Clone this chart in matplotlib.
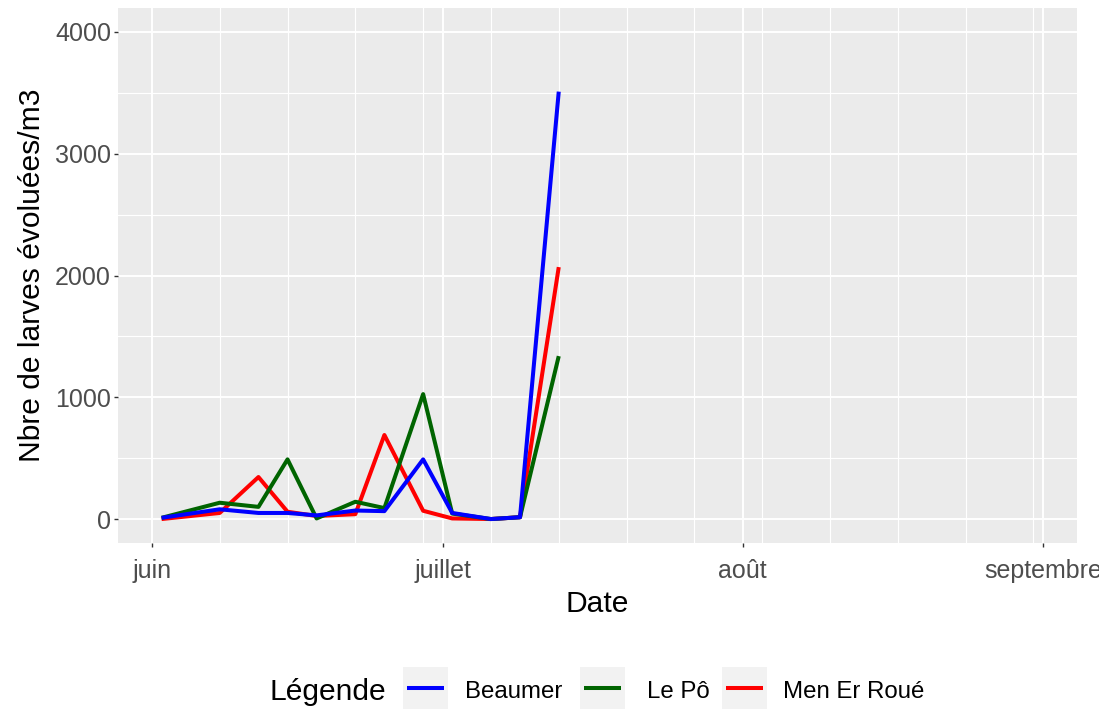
import numpy as np
import matplotlib
matplotlib.use("Agg")
import matplotlib.pyplot as plt
import matplotlib.dates as mdates
from matplotlib.patches import Rectangle
from matplotlib.lines import Line2D

plt.rcParams['font.family'] = ['Liberation Sans', 'DejaVu Sans']

# Data
dates = np.array(['2021-06-02', '2021-06-08', '2021-06-12', '2021-06-15',
                  '2021-06-18', '2021-06-22', '2021-06-25', '2021-06-29',
                  '2021-07-02', '2021-07-06', '2021-07-09', '2021-07-13'],
                 dtype='datetime64[D]')
beaumer = [10, 80, 50, 50, 30, 70, 65, 490, 50, 0, 15, 3510]
le_po = [10, 134, 100, 490, 5, 142, 90, 1026, 45, 0, 15, 1338]
men_er_roue = [0, 50, 345, 60, 25, 40, 690, 68, 5, 0, 15, 2069]

series_names = ['Beaumer', 'Le Pô', 'Men Er Roué']
series_colors = ['#0000FF', '#006400', '#FF0000']
month_labels = ['juin', 'juillet', 'août', 'septembre']
month_starts = np.array(['2021-06-01', '2021-07-01', '2021-08-01', '2021-09-01'],
                        dtype='datetime64[D]')
date_range = np.array(['2021-06-02', '2021-08-31'], dtype='datetime64[D]')
y_limits = [0, 4000]


def to_num(d):
    return mdates.date2num(d.astype('datetime64[s]').astype(object))


W, H = 1099, 709
fig = plt.figure(figsize=(W / 100, H / 100), dpi=100)
top_px, bot_px = 7.6, 543.4
ax = fig.add_axes([118 / W, 1 - bot_px / H, (1077 - 118) / W, (bot_px - top_px) / H])
ax.set_facecolor('#EBEBEB')
for s in ax.spines.values():
    s.set_visible(False)

# ggplot-like expansion of 5%
xnum = to_num(date_range)
xpad = 0.05 * (xnum[1] - xnum[0])
ax.set_xlim(xnum[0] - xpad, xnum[1] + xpad)
ypad = 0.05 * (y_limits[1] - y_limits[0])
ax.set_ylim(y_limits[0] - ypad, y_limits[1] + ypad)

# grid: monthly majors, weekly minors on x; 1000 / 500 on y
ax.set_xticks(to_num(month_starts))
ax.set_xticklabels(month_labels)
weeks = np.arange(np.datetime64('2021-06-01'), np.datetime64('2021-09-05'), 7)
ax.set_xticks(to_num(weeks), minor=True)
ax.set_yticks([0, 1000, 2000, 3000, 4000])
ax.set_yticks(np.arange(500, 4000, 1000), minor=True)
ax.grid(which='major', color='white', linewidth=1.4)
ax.grid(which='minor', color='white', linewidth=0.8)
ax.set_axisbelow(True)
ax.tick_params(which='minor', length=0)
ax.tick_params(which='major', length=3, width=1, color='#333333',
               labelsize=18, labelcolor='#4D4D4D')
ax.tick_params(axis='x', pad=8)
ax.tick_params(axis='y', pad=2)

xd = to_num(dates)
for vals, col, z in [(men_er_roue, series_colors[2], 3),
                     (le_po, series_colors[1], 4),
                     (beaumer, series_colors[0], 5)]:
    ax.plot(xd, vals, color=col, linewidth=2.9, solid_capstyle='butt',
            solid_joinstyle='round', zorder=z)

ax.set_xlabel('Date', fontsize=21.6)
ax.set_ylabel('Nbre de larves évoluées/m3', fontsize=21.6)
ax.xaxis.set_label_coords(0.5, (bot_px - 590) / (bot_px - top_px))
ax.yaxis.set_label_coords((46 - 118) / 959, 0.5)


def fx(px):
    return px / W


def fy(py):
    return 1 - py / H


# legend at the bottom, drawn by hand like ggplot's horizontal legend
fig.text(fx(269), fy(700), 'Légende', fontsize=21.6, va='baseline', ha='left')
key_left = [403, 580, 722]
label_left = [465, 647, 783]
for name, col, kl, ll in zip(series_names, series_colors, key_left, label_left):
    fig.add_artist(Rectangle((fx(kl), fy(709)), fx(45), 42 / H,
                             facecolor='#F2F2F2', edgecolor='none'))
    fig.add_artist(Line2D([fx(kl + 4), fx(kl + 41)], [fy(688), fy(688)],
                          color=col, linewidth=2.9, solid_capstyle='butt'))
    fig.text(fx(ll), fy(698), name, fontsize=17.3, va='baseline', ha='left')

fig.savefig('out.png', dpi=100)
